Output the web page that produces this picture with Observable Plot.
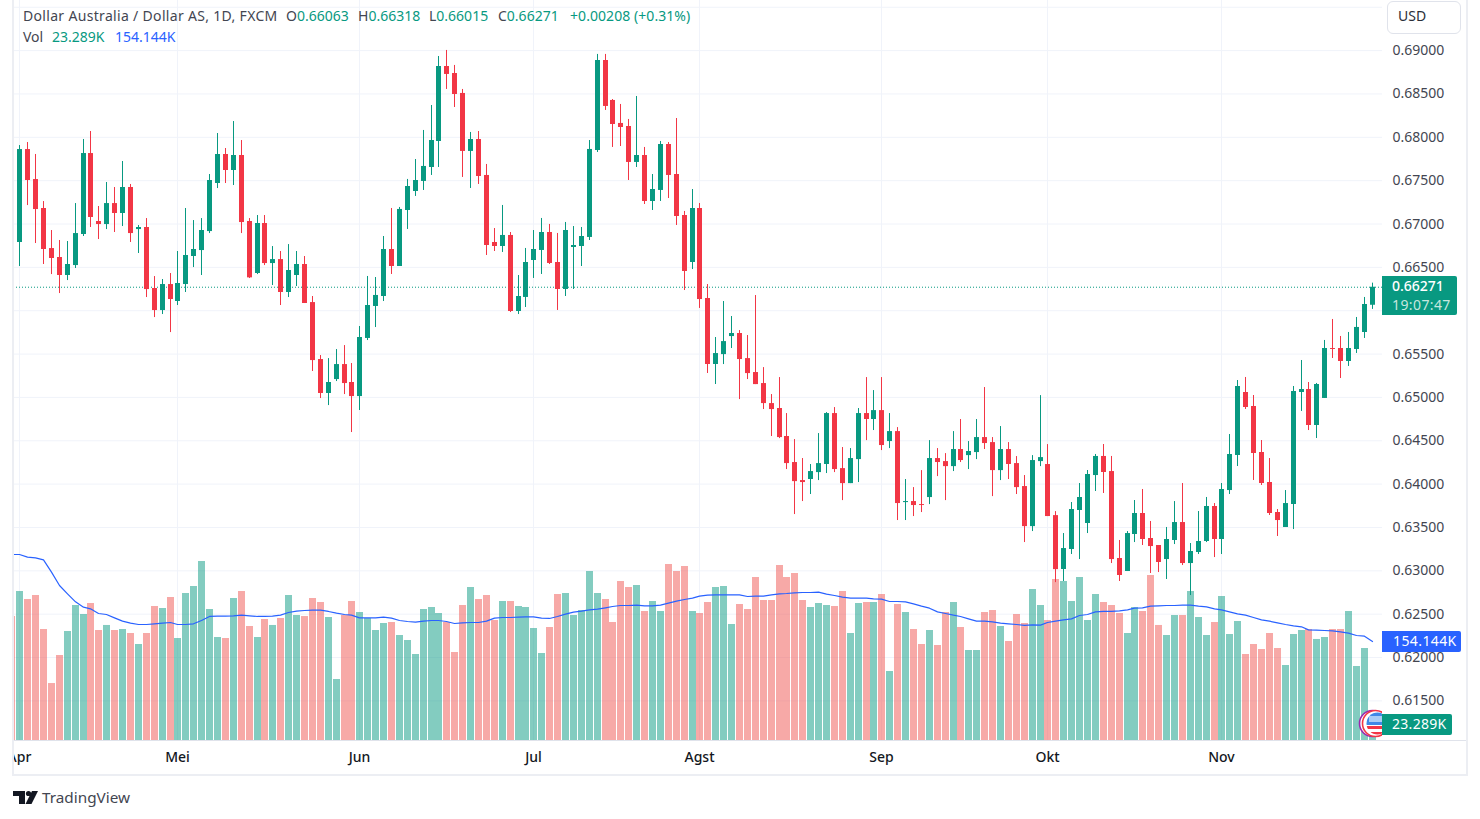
<!DOCTYPE html>
<html>
<head>
<meta charset="utf-8">
<script src="https://cdn.jsdelivr.net/npm/d3@7"></script>
<script src="https://cdn.jsdelivr.net/npm/@observablehq/plot@0.6"></script>
<style>
html,body{margin:0;padding:0;background:#fff;width:1480px;height:819px;overflow:hidden;font-family:"Noto Sans",sans-serif;}
#wrap{position:relative;width:1480px;height:819px;}
#chart{position:absolute;left:0;top:0;}
#chart svg{display:block;}
.t{position:absolute;white-space:nowrap;font-size:14px;line-height:18px;color:#434651;}
.g{color:#089981;}
.b{color:#2962ff;}
.box{position:absolute;}
</style>
</head>
<body>
<div id="wrap">
  <div id="chart"></div>
  <div class="box" style="left:0;top:0;width:12px;height:819px;background:#fff"></div>
  <div class="box" style="left:12px;top:0;width:2px;height:776px;background:#eceef3"></div>
  <div class="box" style="left:1466px;top:0;width:2px;height:776px;background:#eceef3"></div>
  <div class="box" style="left:12px;top:774px;width:1456px;height:2px;background:#eceef3"></div>
  <div class="box" style="left:14px;top:740px;width:1452px;height:1px;background:#e0e3eb"></div>

  <div class="t" style="left:23px;top:7px;letter-spacing:.32px">Dollar Australia / Dollar AS, 1D, FXCM</div>
  <div class="t" style="left:286px;top:7px">O<span class="g">0.66063</span></div>
  <div class="t" style="left:358px;top:7px">H<span class="g">0.66318</span></div>
  <div class="t" style="left:429px;top:7px">L<span class="g">0.66015</span></div>
  <div class="t" style="left:498px;top:7px">C<span class="g">0.66271</span></div>
  <div class="t g" style="left:570px;top:7px;letter-spacing:.06px">+0.00208 (+0.31%)</div>
  <div class="t" style="left:23px;top:28px">Vol</div>
  <div class="t g" style="left:52px;top:28px">23.289K</div>
  <div class="t b" style="left:115px;top:28px">154.144K</div>

  <div class="box" style="left:1387px;top:1px;width:72px;height:31px;border:1px solid #e0e3eb;border-radius:6px;background:#fff"></div>
  <div class="t" style="left:1398px;top:7px;color:#2a2e39">USD</div>

  <svg class="box" style="left:1355px;top:705px" width="27" height="36" viewBox="0 0 27 36">
    <defs><clipPath id="flag"><circle cx="22.5" cy="18.5" r="11"/></clipPath></defs>
    <circle cx="17.5" cy="18.5" r="13" fill="#fff" stroke="#9c27b0" stroke-width="1.6"/>
    <circle cx="20.5" cy="18.5" r="13" fill="#fff" stroke="#f23645" stroke-width="1.6"/>
    <g clip-path="url(#flag)">
      <rect x="10" y="7" width="26" height="24" fill="#fff"/>
      <rect x="10" y="21" width="26" height="3" fill="#f23645"/>
      <rect x="10" y="27" width="26" height="3" fill="#f23645"/>
      <rect x="10" y="7" width="26" height="13" fill="#3f88e6"/>
      <rect x="14" y="11" width="13" height="6" fill="#a9cdf5"/>
    </g>
  </svg>

  <div class="box" style="left:1382px;top:276px;width:75px;height:39px;background:#089981;border-radius:0 2px 2px 0"></div>
  <div class="t" style="left:1392px;top:277px;color:#fff;font-weight:500">0.66271</div>
  <div class="t" style="left:1392px;top:296px;color:#c5e7df;letter-spacing:.4px">19:07:47</div>
  <div class="box" style="left:1382px;top:631px;width:79px;height:21px;background:#2962ff;border-radius:0 2px 2px 0"></div>
  <div class="t" style="left:1393px;top:632px;color:#fff;letter-spacing:.4px">154.144K</div>
  <div class="box" style="left:1382px;top:714px;width:70px;height:21px;background:#089981;border-radius:0 2px 2px 0"></div>
  <div class="t" style="left:1392px;top:715px;color:#fff;letter-spacing:.3px">23.289K</div>

  <svg class="box" style="left:13px;top:789px" width="26" height="16" viewBox="0 0 26 16">
    <polygon points="0,2 12,2 12,15 6,15 6,7 0,7" fill="#131722"/>
    <circle cx="15.5" cy="4.5" r="2.6" fill="#131722"/>
    <polygon points="19,2 25,2 18.5,15 12.5,15" fill="#131722"/>
  </svg>
  <div class="t" style="left:42px;top:788px;font-size:15.3px;color:#434651">TradingView</div>
</div>
<script>
// Prices are in points (1 point = 0.00001). First entry is the bar cut off by the left edge.
const opens = [67133,
66787,67859,67513,67179,66717,66614,66406,66521,66879,67813,67029,66994,67236,67121,67421,66936,66960,66256,66002,66302,
66106,66302,66625,66694,66913,67467,67802,67617,67790,67029,66429,67006,66544,66590,66210,66406,66533,66094,65437,65045,
65206,65379,65172,65010,65680,66049,66164,66706,66510,67156,67375,67491,67652,67952,68817,68736,68506,67837,67975,67560,
66787,66741,66868,65991,66153,66579,66695,66902,66556,66245,66729,66741,66845,67848,68886,68425,68160,68125,67710,67790,
67260,67387,67917,67571,67098,66556,67179,66141,65380,65494,65702,65737,65448,65287,65160,64929,64872,64549,64249,64041,
64053,64133,64226,64814,64179,64006,64283,64814,64745,64848,64491,64606,63787,63799,63764,63845,64295,64260,64202,64399,
64329,64364,64537,64479,64156,64399,64237,63972,63510,64260,64226,63637,63015,63246,63696,63546,64099,64319,64145,63142,
62992,63419,63661,63373,63292,63130,63350,63557,63084,63211,63338,63742,63361,63926,64330,65057,64895,64365,64019,63673,
63500,63765,65057,65091,64676,64988,65564,65564,65414,65553,65749,66063];
const highs = [67133,
67905,67940,67802,67259,66925,66810,66798,67236,67975,68067,67202,67479,67421,67721,67456,66983,67063,66394,66360,66429,
66683,67179,67040,67063,67571,68044,67871,68182,67963,67063,67098,67098,66740,66683,66763,66683,66625,66164,65483,65448,
65552,65598,65391,65818,66395,66383,66856,67179,67191,67514,67744,68079,68367,68932,69002,68829,68552,68056,68067,67687,
66948,67214,66902,66406,66718,66925,67064,66995,66891,67018,66971,66960,67963,68956,68956,68436,68379,68206,68471,67883,
67571,67952,67940,68217,67145,67398,67237,66302,65691,66106,65933,65771,65714,66175,65344,65033,65229,64814,64514,64295,
64226,64583,64825,64883,64422,64410,64872,65229,65079,65229,64814,64652,64053,63960,64156,64502,64410,64352,64606,64745,
64491,64745,65114,64537,64664,64479,64318,64099,64329,65021,64456,63683,63430,63788,64007,64157,64342,64457,64319,63350,
63453,63811,63938,63569,63292,63500,63799,64007,63315,63684,63846,63776,64007,64572,65195,65230,65022,64503,64295,63707,
63926,65126,65426,65172,65161,65657,65899,65703,65749,65922,66153,66318];
const lows = [66833,
66510,67213,66775,66533,66417,66198,66348,66487,66856,66960,66821,66936,66902,66971,66787,66660,66152,65921,65956,65748,
66060,66210,66498,66406,66890,67409,67467,67444,66890,66371,66417,66521,66291,66060,66152,66279,66083,65299,64987,64906,
65183,65033,64595,64849,65656,65806,66106,66418,66510,66937,67318,67387,67560,67652,68552,68344,67537,67410,67456,66637,
66683,66672,65979,65956,66037,66372,66418,66533,66003,66164,66245,66510,66810,67825,68310,67883,67894,67502,67652,67225,
67156,67260,67294,66983,66233,66475,66026,65276,65149,65379,65564,64975,65206,65148,64860,64549,64525,64168,63649,63799,
63880,64041,64122,64133,63810,64006,64018,64502,64618,64387,64410,63580,63580,63626,63672,63764,64087,63810,64145,64249,
64168,64283,64399,63856,64041,64053,63880,63326,63453,64202,63626,62864,62877,63188,63130,63430,63915,63892,63084,62877,
62992,63326,63292,62969,62980,62900,63303,63061,62715,63188,63326,63153,63188,63880,64203,64861,64042,63984,63638,63396,
63500,63476,64838,64618,64526,64988,65449,65218,65357,65507,65680,66015];
const closes = [66833,
67859,67502,67167,66706,66602,66406,66533,66890,67813,67075,66994,67236,67121,67421,66890,66960,66244,66002,66302,66129,
66314,66637,66706,66925,67502,67802,67617,67790,67017,66379,67006,66544,66590,66210,66464,66533,66083,65425,65045,65172,
65379,65160,65010,65691,66060,66176,66706,66510,67168,67433,67502,67664,67963,68817,68725,68494,67837,67975,67548,66752,
66741,66868,65991,66164,66556,66706,66902,66545,66245,66925,66752,66856,67860,68886,68356,68148,68113,67710,67790,67260,
67398,67917,67560,67087,66452,67179,66129,65380,65506,65644,65737,65437,65275,65148,64929,64860,64537,64237,64029,64018,
64145,64237,64814,64168,64006,64295,64814,64745,64848,64445,64606,63776,63799,63753,63753,64295,64249,64202,64399,64272,
64376,64537,64468,64156,64399,64226,63960,63510,64272,64306,63626,63014,63257,63707,63846,64111,64319,64134,63130,62946,
63430,63661,63361,63280,63096,63361,63557,63084,63223,63338,63742,63361,63938,64342,65126,64884,64353,64007,63661,63580,
63776,65068,65091,64676,65149,65564,65553,65414,65564,65807,66072,66271];
// Volume in thousands
const volumes = [193,
232,219.5,225.8,172.8,88.7,132.3,169.7,210.2,196.2,213.3,171.3,179.1,171.3,172.8,166.6,149.5,166.6,208.6,205.5,222.7,
158.8,228.9,239.8,278.7,204,160.4,158.8,221.1,232,177.5,160.4,188.4,179.1,190,225.8,194.6,193,221.1,214.9,191.5,
95,194.6,216.4,199.3,190,171.3,182.2,183.7,163.5,155.7,133.9,204,207.1,197.7,183.7,137,210.2,238.2,219.5,225.8,
186.8,216.4,216.4,208.6,207.1,174.4,135.5,175.9,227.3,228.9,194.6,202.4,263.1,228.9,219.5,183.7,247.6,238.2,241.3,200.9,
216.4,200.9,274,263.1,270.9,200.9,197.7,214.9,238.2,239.8,180.6,211.8,204,253.8,218,218,272.5,253.8,260,218,
207.1,213.3,210.2,208.6,232,166.6,213.3,214.9,214.9,227.3,107.4,211.8,199.3,172.8,149.5,171.3,147.9,199.3,214.9,175.9,
140.1,140.1,199.3,202.4,177.5,154.1,196.2,182.2,235.1,210.2,186.8,250.7,247.6,216.4,253.8,186.8,227.3,214.9,210.2,197.7,
166.6,207.1,200.9,256.9,179.1,163.5,194.6,194.6,232,191.5,163.5,183.7,224.2,165,185.3,133.9,149.5,141.7,166.6,143.2,
116.8,165,171.3,172.8,157.3,160.4,172.8,172.8,200.9,115.2,143.2,23.289];
const volumeAverage = [289.6,
289.6,285.5,284.4,281.3,262.1,241.3,228.4,215.9,207.6,205,197.7,196.2,191,185.8,182.7,180.6,180.6,181.7,182.7,183.7,
180.6,180.6,181.7,186.8,193.1,193.6,193.6,194.1,195.1,194.1,193.1,193.1,193.6,195.1,199.3,201.4,202.4,202.9,202.9,200.9,
198.3,196.2,195.1,191,191,191,192,190.5,186.8,185.3,184.2,185.8,186.8,186.8,185.3,182.2,183.2,183.7,183.7,185.8,
190.5,191.5,191.5,192,192.5,192.5,190.5,190,193.1,196.7,199.8,201.4,203.4,204.5,206.6,208.6,210.2,210.2,210.7,209.7,
209.7,210.7,213.8,216.9,219.5,221.6,224.7,226.3,226.8,226.8,226.8,226.8,224.2,224.7,224.7,226.8,228.4,228.9,229.9,230.4,
230.4,231,227.8,225.8,223.2,221.6,221.6,221.6,220.6,220.1,216.4,216.4,215.9,212.8,209.2,206,200.3,197.7,195.1,193.1,
189.4,185.8,185.8,184.8,182.7,181.7,180.6,179.1,180.1,179.6,183.7,185.8,187.9,189.4,194.6,196.2,200.3,200.9,200.9,201.9,
203.4,206,206.6,209.2,209.7,210.2,210.2,210.7,210.7,209.2,208.1,205,203.4,200.3,197.2,195.1,191.5,187.9,185.8,183.2,
180.6,178.5,177,172.3,171.8,171.3,170.8,169.2,167.1,163.5,162.4,154.144];

const monthBars = [0,20,43,65,86,109,130,152];
const monthLabels = ["Apr","Mei","Jun","Jul","Agst","Sep","Okt","Nov"];
const gridPrices = [0.615,0.62,0.625,0.63,0.635,0.64,0.645,0.65,0.655,0.66,0.665,0.67,0.675,0.68,0.685,0.69,0.695];
const tickPrices = [0.615,0.62,0.625,0.63,0.635,0.64,0.645,0.65,0.655,0.665,0.67,0.675,0.68,0.685,0.69];
const lastPrice = 0.66271;

const UP = "#089981", DOWN = "#f23645", GRID = "#f0f3fa", VOLUP="#089981", VOLDOWN="#ef5350", FONT='"Noto Sans",sans-serif';
const priceFloor = 0.61043, priceCeil = 0.69578, pricePerVolume = 7.408e-5;
const volumeY = v => priceFloor + v * pricePerVolume;

const bars = opens.map((o,k)=>({
  bar:k-1, open:o/1e5, high:highs[k]/1e5, low:lows[k]/1e5, close:closes[k]/1e5,
  volume:volumes[k], average:volumeAverage[k], rising:closes[k]>=o
}));
const monthName = new Map(monthBars.map((b,k)=>[b,monthLabels[k]]));

const chart = Plot.plot({
  width:1480, height:775, marginLeft:13, marginRight:98, marginTop:0, marginBottom:35,
  x:{domain:[-0.7928,172.30], round:true, axis:null},
  y:{domain:[priceFloor,priceCeil], axis:null},
  style:{background:"transparent", fontFamily:FONT},
  marks:[
    Plot.ruleY(gridPrices,{stroke:GRID, strokeWidth:1}),
    Plot.ruleX(monthBars,{stroke:GRID, strokeWidth:1}),
    Plot.ruleX(bars,{x:"bar", y1:()=>priceFloor, y2:d=>volumeY(d.volume), stroke:d=>d.rising?VOLUP:VOLDOWN, strokeOpacity:0.5, strokeWidth:7, clip:true}),
    Plot.line(bars,{x:"bar", y:d=>volumeY(d.average), stroke:"#2962ff", strokeWidth:1.2, clip:true}),
    Plot.ruleY([lastPrice],{stroke:UP, strokeWidth:1, strokeDasharray:"1 2"}),
    Plot.ruleX(bars,{x:"bar", y1:"low", y2:"high", stroke:d=>d.rising?UP:DOWN, strokeWidth:1, clip:true}),
    Plot.ruleX(bars,{x:"bar", y1:"open", y2:"close", stroke:d=>d.rising?UP:DOWN, strokeWidth:5, clip:true}),
    Plot.axisY(tickPrices,{anchor:"right", label:null, tickSize:0, tickPadding:10, tickFormat:d=>d.toFixed(5), fontSize:14, fill:"#434651"}),
    Plot.axisX(monthBars,{label:null, tickSize:0, tickPadding:12, tickFormat:d=>monthName.get(d), fontSize:14, fontWeight:500, fill:"#131722"})
  ]
});
document.getElementById("chart").appendChild(chart);
</script>
</body>
</html>
